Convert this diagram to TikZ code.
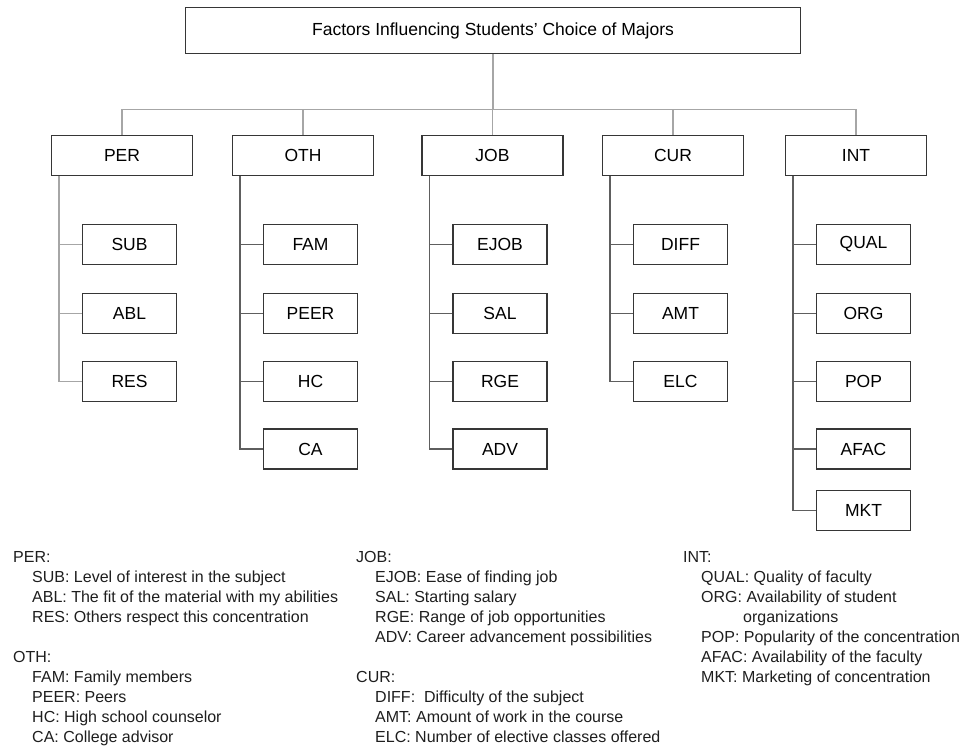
\documentclass[tikz,border=0pt]{standalone}
\usepackage{fontspec}
\setmainfont{Liberation Sans}
\usetikzlibrary{positioning}

\definecolor{boxline}{HTML}{363636}
\definecolor{linkgray}{HTML}{5E5E5E}
\definecolor{linklight}{HTML}{A6A6A6}
\definecolor{keytext}{HTML}{1E1E1E}

\begin{document}
\begin{tikzpicture}[
                    x=1pt, y=-1pt,
                    topbox/.style={draw=boxline, line width=1.3pt, minimum width=615pt, minimum height=46pt, font=\fontsize{17.5}{20}\selectfont},
                    catbox/.style={draw=boxline, line width=1.3pt, minimum width=141pt, minimum height=40pt, font=\fontsize{17.5}{20}\selectfont},
                    itembox/.style={draw=boxline, line width=1.3pt, minimum width=94pt, minimum height=40pt, font=\fontsize{17.5}{20}\selectfont},
                    link/.style={draw=linkgray, line width=1.3pt},
                    faint/.style={draw=linklight, line width=1.3pt},
                    key/.style={anchor=base west, inner sep=0pt, text=keytext, font=\fontsize{16}{20}\selectfont}
                ]
                \useasboundingbox (0,0) rectangle (968,747);

                % root and the five groups
                \node[topbox] (root) at (493,30.5) {Factors Influencing Students’ Choice of Majors};
                \foreach \x/\n in {122/PER, 303/OTH, 492.5/JOB, 673/CUR, 856/INT}{
                        \node[catbox] (\n) at (\x,155.5) {\n};
                        \draw[faint] (root.south) -- ++(0,55) -| (\n.north);
                    }

                % items under each group
                \foreach \g/\i/\y/\st in {PER/SUB/244.5/faint, PER/ABL/313.5/faint, PER/RES/381.5/faint,
                                          OTH/FAM/244.5/link, OTH/PEER/313.5/link, OTH/HC/381.5/link, OTH/CA/449/link,
                                          JOB/EJOB/244.5/link, JOB/SAL/313.5/link, JOB/RGE/381.5/link, JOB/ADV/449/link,
                                          CUR/DIFF/244.5/link, CUR/AMT/313.5/link, CUR/ELC/381.5/link,
                                          INT/QUAL/244.5/link, INT/ORG/313.5/link, INT/POP/381.5/link, INT/AFAC/449/link, INT/MKT/510.5/link}{
                        \node[itembox] (\i) at ([xshift=7.5pt]\g.center |- 0,\y) {\i};
                        \draw[\st] ([xshift=8pt]\g.south west) |- (\i.west);
                    }

                % key
                \foreach \x/\k/\t in {13/0/PER:, 32/1/SUB: Level of interest in the subject,
                                      32/2/ABL: The fit of the material with my abilities, 32/3/RES: Others respect this concentration,
                                      13/5/OTH:, 32/6/FAM: Family members, 32/7/PEER: Peers,
                                      32/8/HC: High school counselor, 32/9/CA: College advisor}{
                        \node[key] (keyA\k) at (\x,562+20*\k) {\t};
                    }
                \foreach \x/\k/\t in {356/0/JOB:, 375/1/EJOB: Ease of finding job, 375/2/SAL: Starting salary,
                                      375/3/RGE: Range of job opportunities, 375/4/ADV: Career advancement possibilities,
                                      356/6/CUR:, 375/7/DIFF:\ \ Difficulty of the subject,
                                      375/8/AMT: Amount of work in the course, 375/9/ELC: Number of elective classes offered}{
                        \node[key] (keyB\k) at (\x,562+20*\k) {\t};
                    }
                \foreach \x/\k/\t in {683/0/INT:, 701/1/QUAL: Quality of faculty, 701/2/ORG: Availability of student,
                                      743/3/organizations, 701/4/POP: Popularity of the concentration,
                                      701/5/AFAC: Availability of the faculty, 701/6/MKT: Marketing of concentration}{
                        \node[key] (keyC\k) at (\x,562+20*\k) {\t};
                    }
            \end{tikzpicture}
\end{document}
